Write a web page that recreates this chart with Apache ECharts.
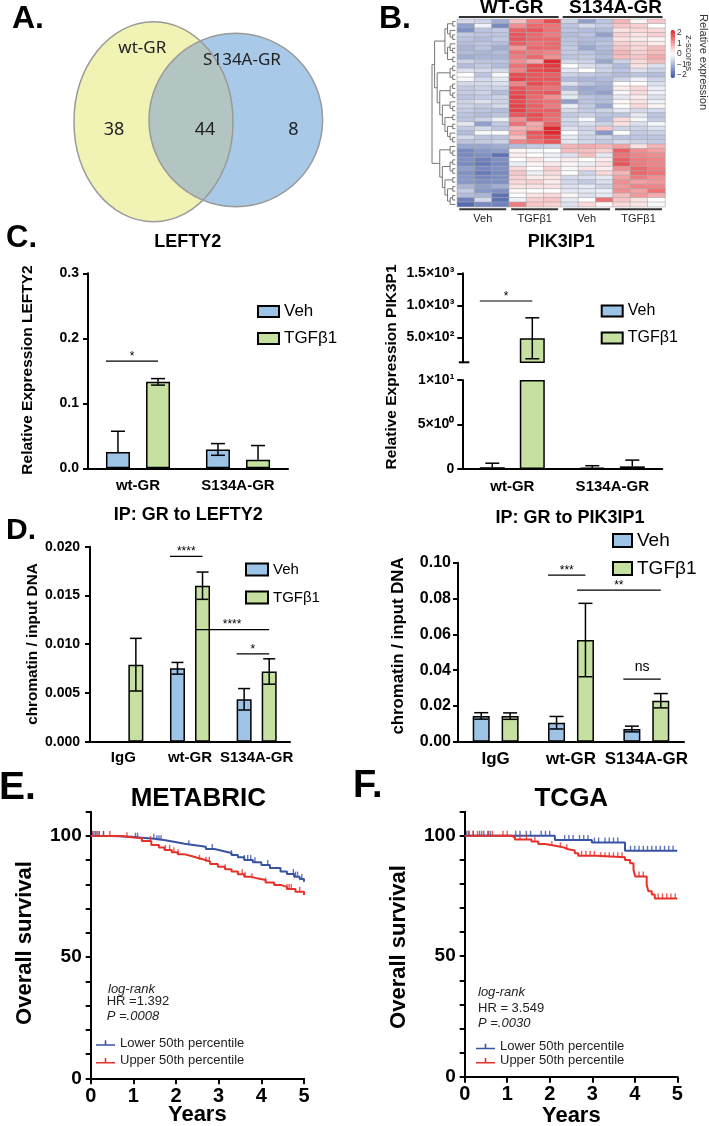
<!DOCTYPE html>
<html><head><meta charset="utf-8">
<script src="https://cdn.jsdelivr.net/npm/echarts@6/dist/echarts.min.js"></script>
<style>html,body{margin:0;padding:0;background:#fff}#c{width:709px;height:1126px}</style>
</head><body><div id="c"></div>
<script>
// ================= DATA =================
// A. Venn
const vennSets = ['wt-GR', 'S134A-GR'];
const vennCounts = [38, 44, 8]; // wt-GR only, shared, S134A-GR only

// B. Heatmap (z-scores), columns: WT-GR Veh x3, WT-GR TGFb1 x3, S134A-GR Veh x3, S134A-GR TGFb1 x3
const hmGroups = ['WT-GR', 'S134A-GR'];
const hmTreatments = ['Veh', 'TGFβ1', 'Veh', 'TGFβ1'];
const hmColumns = ['WT Veh 1','WT Veh 2','WT Veh 3','WT TGF 1','WT TGF 2','WT TGF 3','S134A Veh 1','S134A Veh 2','S134A Veh 3','S134A TGF 1','S134A TGF 2','S134A TGF 3'];
const hmRows = [
 [-0.5,-0.6,-1.1, 0.7,1.4,1.9, -0.6,-1.3,-0.8, 0.8,0.1,0.6],
 [-1.3,-0.2,-1.6, 1.2,1.6,1.5, -0.8,-0.5,-0.7, 0.6,0.5,0.0],
 [-1.5,-0.8,-0.7, 1.7,1.8,1.5, -0.8,-0.9,-0.9, 0.3,0.4,0.4],
 [-0.7,-0.8,-0.8, 1.8,1.6,1.4, -0.9,-0.8,-1.3, 0.5,0.3,0.5],
 [-0.8,-0.9,-0.7, 1.8,1.6,1.6, -0.8,-0.9,-0.9, 0.3,0.2,0.1],
 [-0.9,-0.8,-0.9, 1.7,1.5,1.6, -0.8,-1.0,-0.8, 0.5,0.4,0.2],
 [-1.0,-0.8,-1.1, 1.1,1.6,1.6, -0.7,-1.2,-0.9, 0.6,0.4,0.7],
 [-0.9,-1.0,-0.9, 1.5,1.4,1.3, -0.7,-0.8,-1.0, 0.8,0.5,0.7],
 [-1.1,-1.0,-1.0, 1.4,1.6,1.2, -0.8,-0.7,-0.9, 0.7,0.6,0.9],
 [-0.6,-0.8,-0.8, 1.2,0.9,2.4, -0.5,-0.6,-1.2, -0.6,0.4,0.7],
 [-0.9,-0.7,-0.9, 1.5,1.9,2.1, 0.0,-0.4,-0.6, -0.9,0.3,-0.4],
 [-0.4,-0.5,-0.5, 1.3,1.9,2.0, -0.3,0.0,-0.6, -0.8,-0.4,-0.6],
 [0.0,-0.8,-0.1, 1.9,1.8,1.7, -0.6,-0.7,-0.8, -0.9,-0.8,-0.9],
 [-0.1,-0.5,-0.3, 2.0,1.8,1.8, -0.9,-1.0,-0.9, -0.6,-0.2,-0.6],
 [-0.5,-0.5,-0.4, 1.3,1.9,1.7, -0.4,-0.8,-1.0, 0.0,0.0,-0.4],
 [-0.7,-0.6,-0.6, 1.8,1.6,1.5, -1.0,-1.2,-1.1, 0.2,0.4,-0.2],
 [-0.7,-0.6,-0.9, 1.9,1.7,1.8, -0.4,-1.1,-1.3, -0.1,0.4,-0.2],
 [-0.8,-0.7,-0.6, 2.0,1.6,1.2, -0.3,-0.8,-0.9, -0.3,0.2,-0.4],
 [-0.6,-0.4,-0.6, 1.9,1.6,1.5, -1.3,-0.8,-0.9, 0.1,0.3,-0.2],
 [-0.6,-0.7,-0.5, 2.0,1.7,1.4, -0.2,-0.7,-1.2, 0.0,0.4,0.1],
 [-0.7,-0.8,-0.9, 2.0,1.7,1.7, -0.5,-0.7,-0.6, -0.3,-0.5,-0.5],
 [-0.8,-0.9,-0.8, 1.8,1.9,1.6, -0.7,-0.6,-0.8, -0.8,-0.3,-0.8],
 [-0.8,-0.6,-0.2, 1.2,1.8,1.5, -0.5,-0.1,-0.9, 0.4,-0.1,-0.7],
 [-0.3,-1.3,-0.7, 1.5,0.9,1.7, -0.6,-0.4,-0.6, 0.3,-0.4,-0.1],
 [-0.7,-0.5,-0.8, 0.8,1.0,2.5, -0.4,-0.6,0.6, -0.6,-0.6,-0.4],
 [-0.9,-0.1,0.0, 1.0,1.8,2.3, 0.0,-0.5,-1.4, 0.0,-0.7,-0.6],
 [-0.5,-0.8,-0.8, 0.7,1.7,2.0, -0.3,-0.6,-0.6, -0.8,-0.8,-0.8],
 [-0.8,-0.7,-0.6, 1.3,1.5,1.8, -0.3,-0.5,-0.7, -0.5,-0.6,-0.7],
 [-1.2,-1.2,-1.1, -0.9,-0.7,-0.6, 0.8,0.9,0.8, 1.0,0.3,0.8],
 [-1.6,-1.4,-1.3, 0.1,-0.1,0.0, 0.7,0.7,0.5, 1.7,1.2,1.0],
 [-1.6,-1.5,-1.9, 0.2,0.0,-0.2, -0.4,0.7,-0.3, 1.5,1.3,1.2],
 [-1.5,-1.7,-1.5, 0.0,0.3,-0.1, 0.2,0.0,0.2, 1.7,1.4,1.3],
 [-1.6,-1.8,-1.6, -0.2,0.1,0.2, 0.1,-0.2,0.3, 1.8,1.4,1.3],
 [-1.3,-1.6,-1.5, 0.4,0.0,0.5, -0.1,0.3,0.2, 1.2,1.6,1.4],
 [-1.5,-1.8,-1.6, 0.6,-0.2,0.4, 0.0,-0.6,0.4, 0.8,1.6,1.5],
 [-1.4,-1.6,-1.5, 0.5,0.2,0.3, -0.5,-0.4,-0.3, 1.0,1.4,1.2],
 [-1.4,-1.5,-1.5, 0.4,0.5,0.2, -0.5,-0.7,-0.4, 1.2,1.0,1.1],
 [-1.0,-1.3,-1.1, 0.3,0.3,0.3, -0.4,-0.3,-0.6, 1.1,1.3,1.3],
 [-0.7,-1.4,-1.5, 0.1,0.0,0.0, -0.3,-0.3,-0.2, 1.2,1.0,1.5],
 [-0.9,-1.0,-1.9, 0.0,0.3,0.4, 0.1,-0.4,-0.3, 0.7,1.1,0.9],
 [-1.7,-0.5,-1.9, -0.2,0.5,0.6, -0.3,0.0,1.5, 0.6,0.3,0.0],
 [-2.0,-1.6,-1.7, 1.4,0.6,0.5, -0.4,0.4,0.1, 0.4,0.3,-0.1]
];
// row clustering (leaf = row index)
const hmTree = [
 [[[[0,1],[2,[3,4]]],[[5,[6,7]],[8,9]]],
  [[[10,11],[12,13]],[[[14,15],[16,17]],[[18,[19,20]],[[21,22],[[23,24],[25,[26,27]]]]]]]],
 [[28,[29,30]],[[[31,32],[33,34]],[[35,36],[[37,38],[[39,40],41]]]]]
];
const zTicks = [2, 1, 0, -1, -2];

// C. qPCR
const treatments = ['Veh', 'TGFβ1'];
const grGroups = ['wt-GR', 'S134A-GR'];
const lefty2VehMean = [0.025, 0.029];
const lefty2VehSD   = [0.032, 0.009];
const lefty2TgfMean = [0.133, 0.013];
const lefty2TgfSD   = [0.005, 0.022];
const pik3VehMean = [0.2, 0.15];
const pik3VehSD   = [0.45, 0.22];
const pik3TgfMean = [485, 0.3];
const pik3TgfSD   = [320, 0.7];
const pik3UpperTicks = [500, 1000, 1500];
const pik3UpperLabels = ['5.0×10²', '1.0×10³', '1.5×10³'];
const pik3LowerTicks = [0, 5, 10];
const pik3LowerLabels = ['0', '5×10⁰', '1×10¹'];

// D. ChIP
const chipGroups = ['IgG', 'wt-GR', 'S134A-GR'];
const chipLeftyVehMean = [0, 0.00753, 0.00435];
const chipLeftyVehSD   = [0, 0.0006, 0.0011];
const chipLeftyTgfMean = [0.0079, 0.0160, 0.0072];
const chipLeftyTgfSD   = [0.0027, 0.0014, 0.0013];
const chipPikVehMean = [0.0144, 0.0106, 0.0071];
const chipPikVehSD   = [0.0018, 0.0035, 0.0016];
const chipPikTgfMean = [0.0143, 0.0568, 0.0229];
const chipPikTgfSD   = [0.0018, 0.0205, 0.0040];

// significance: [label, groupA, treatmentA, groupB, treatmentB, y]
const lefty2Sig = [['*', 0, 0, 0, 1, 0.165]];
const pik3Sig = [['*', 0, 0, 0, 1, 1067]];
const chipLeftySig = [['****', 1, 0, 1, 1, 0.0190], ['****', 1, 1, 2, 1, 0.0115], ['*', 2, 0, 2, 1, 0.0090]];
const chipPikSig = [['***', 1, 0, 1, 1, 0.0931], ['**', 1, 1, 2, 1, 0.0847], ['ns', 2, 0, 2, 1, 0.035]];

// E/F. Kaplan-Meier
const kmGroups = ['Lower 50th percentile', 'Upper 50th percentile'];
const metaLowerT = [0, 0.5, 0.95, 1.2, 1.5, 1.75, 1.98, 2.2, 2.45, 2.7, 2.9, 3.1, 3.3, 3.45, 3.6, 3.8, 4.0, 4.2, 4.45, 4.6, 4.77, 4.9, 5.0];
const metaLowerS = [100, 99.7, 99.3, 98.8, 98.2, 97.5, 96.8, 96.2, 95.5, 94.6, 93.8, 93.0, 92.1, 91.2, 90.1, 89.1, 88.0, 86.8, 85.3, 84.3, 83.2, 82.2, 81.1];
const metaUpperT = [0, 0.72, 0.95, 1.2, 1.42, 1.6, 1.73, 1.9, 2.04, 2.2, 2.36, 2.5, 2.67, 2.8, 2.98, 3.15, 3.3, 3.45, 3.6, 3.75, 3.9, 4.1, 4.3, 4.45, 4.6, 4.8, 5.0];
const metaUpperS = [100, 99.5, 99.0, 97.9, 96.3, 95.2, 94.2, 93.3, 92.4, 91.7, 91.0, 90.2, 89.4, 88.4, 87.3, 86.3, 85.3, 84.2, 83.2, 82.5, 81.8, 80.8, 79.8, 79.0, 78.1, 77.0, 75.6];
const metaLowerCens = [0.05, 0.1, 0.15, 0.2, 0.3, 1.05, 1.1, 1.48, 1.55, 1.6, 1.65, 2.3, 2.85, 3.3, 3.6, 3.68, 3.75, 3.85, 4.15, 4.75, 4.8, 4.85, 4.95];
const metaUpperCens = [0.05, 0.12, 0.2, 0.3, 0.45, 0.85, 1.4, 1.75, 1.85, 1.95, 2.05, 2.55, 2.7, 2.78, 3.15, 3.55, 3.62, 3.78, 4.1, 4.6, 4.65, 4.7, 4.9];
const tcgaLowerT = [0, 2.12, 2.99, 3.77, 5.0];
const tcgaLowerS = [100, 98.3, 97.2, 93.8, 93.8];
const tcgaUpperT = [0, 1.10, 1.18, 1.57, 1.73, 1.89, 2.16, 2.32, 2.44, 2.59, 2.67, 3.10, 3.77, 3.89, 3.97, 4.01, 4.28, 4.32, 4.40, 4.47, 5.0];
const tcgaUpperS = [100, 99.4, 98.5, 97.6, 96.6, 95.8, 95.2, 94.4, 93.9, 92.8, 91.7, 91.1, 90.0, 88.6, 85.9, 83.1, 79.7, 77.0, 75.6, 74.0, 74.0];
const tcgaLowerCens = [0.05,0.1,0.2,0.35,0.45,0.55,0.6,1.2,1.3,1.45,1.55,1.8,1.9,2.0,2.35,2.45,2.55,2.7,2.8,2.9,3.05,3.15,3.3,3.4,3.5,3.6,3.9,4.0,4.1,4.2,4.3,4.4,4.5,4.6,4.7,4.8,4.9];
const tcgaUpperCens = [0.1,0.2,0.3,0.4,0.55,0.65,0.9,1.0,1.3,1.45,1.65,2.05,2.25,2.4,2.75,2.85,2.95,3.05,3.2,3.3,3.4,3.5,3.6,3.7,4.1,4.2,4.55,4.65,4.75,4.85,4.95];
const metaStats = ['log-rank', 'HR =1.392', 'P =.0008'];
const tcgaStats = ['log-rank', 'HR = 3.549', 'P =.0030'];

// ================= STYLE / HELPERS =================
const F = '"Liberation Sans", Arial, sans-serif';
const FV = '"Noto Sans", "Open Sans", sans-serif';
const VEH = '#9dc3e6', TGF = '#c5e0a0';
const KMB = '#3953a4', KMR = '#e8302a';

const chart = echarts.init(document.getElementById('c'), null, {renderer: 'canvas', width: 709, height: 1126});

function catX(grid, cats, fs, margin, show) {
  return {type: 'category', gridIndex: grid, data: cats, show: show !== false,
    axisLine: {lineStyle: {color: '#000', width: 2}},
    axisTick: {alignWithLabel: true, length: 5, lineStyle: {color: '#000', width: 2}},
    axisLabel: {interval: 0, fontFamily: F, fontWeight: 'bold', fontSize: fs, color: '#000', margin: margin}};
}
function valY(grid, min, max, interval, fs, fmt, margin, extra) {
  return Object.assign({type: 'value', gridIndex: grid, min: min, max: max, interval: interval,
    axisLine: {show: true, lineStyle: {color: '#000', width: 2}},
    axisTick: {show: true, length: 5, lineStyle: {color: '#000', width: 2}},
    splitLine: {show: false},
    axisLabel: {fontFamily: F, fontWeight: 'bold', fontSize: fs, color: '#000', margin: margin, formatter: fmt}}, extra || {});
}
function bar(ax, name, color, data, bw, gap) {
  return {type: 'bar', name: name, xAxisIndex: ax, yAxisIndex: ax, data: data, barWidth: bw, barGap: gap,
    itemStyle: {color: color, borderColor: '#000', borderWidth: 1.5}, silent: true, animation: false};
}
function errSeries(ax, means, sds, off, cap, yMin, yMax) {
  const data = [];
  means.forEach((m, s) => m.forEach((v, i) => data.push([i, s, v, sds[s][i]])));
  return {type: 'custom', xAxisIndex: ax, yAxisIndex: ax, data: data, silent: true, z: 5,
    renderItem: function (p, api) {
      const i = api.value(0), s = api.value(1), m = api.value(2), sd = api.value(3);
      if (!sd) return null;
      let lo = m - sd, hi = m + sd;
      const loCap = lo >= yMin, hiCap = hi <= yMax;
      if (!loCap) lo = m;
      lo = Math.max(lo, yMin); hi = Math.min(hi, yMax);
      if (lo >= hi) return null;
      const cx = api.coord([i, 0])[0] + (s === 0 ? -off : off);
      const yl = api.coord([i, lo])[1], yh = api.coord([i, hi])[1];
      const st = {stroke: '#000', lineWidth: 1.5};
      const ch = [{type: 'line', shape: {x1: cx, y1: yl, x2: cx, y2: yh}, style: st}];
      if (hiCap) ch.push({type: 'line', shape: {x1: cx - cap, y1: yh, x2: cx + cap, y2: yh}, style: st});
      if (loCap) ch.push({type: 'line', shape: {x1: cx - cap, y1: yl, x2: cx + cap, y2: yl}, style: st});
      return {type: 'group', children: ch};
    }};
}
function stepAt(T, S, t) { let v = S[0]; for (let k = 0; k < T.length; k++) { if (T[k] <= t) v = S[k]; } return v; }
function kmLine(ax, name, color, T, S) {
  return {type: 'line', name: name, xAxisIndex: ax, yAxisIndex: ax, step: 'end', showSymbol: false, symbol: 'none',
    data: T.map((t, k) => [t, S[k]]), color: color, lineStyle: {color: color, width: 2}, itemStyle: {color: color}, silent: true, animation: false};
}
function kmCens(ax, color, T, S, C) {
  return {type: 'scatter', xAxisIndex: ax, yAxisIndex: ax, symbol: 'rect', symbolSize: [1.4, 5], symbolOffset: [0, -2.5],
    data: C.map(t => [t, stepAt(T, S, t)]), itemStyle: {color: color}, silent: true, z: 4};
}
function kmX(grid) {
  return {type: 'value', gridIndex: grid, min: 0, max: 5, interval: 1,
    axisLine: {lineStyle: {color: '#000', width: 2}}, axisTick: {length: 6, lineStyle: {color: '#000', width: 2}},
    splitLine: {show: false}, axisLabel: {fontFamily: F, fontWeight: 'bold', fontSize: 20, color: '#000', margin: 8}};
}
function kmY(grid) {
  return {type: 'value', gridIndex: grid, min: 0, max: 110, interval: 10,
    axisLine: {show: true, lineStyle: {color: '#000', width: 2}}, axisTick: {show: true, length: 5, lineStyle: {color: '#000', width: 2}},
    splitLine: {show: false}, axisLabel: {fontFamily: F, fontWeight: 'bold', fontSize: 19, color: '#000', margin: 9,
      formatter: v => (v % 50 === 0 ? String(v) : '')}};
}
const kmIcon = 'path://M0,6h24v2h-24z M11,1h2v6h-2z';

// heatmap data
const hmData = [];
hmRows.forEach((row, r) => row.forEach((v, c) => hmData.push([c, r, v])));
const hmRowNames = hmRows.map((_, r) => 'gene ' + (r + 1));

// bar layout
const cBW = 24, cGap = 0.67, cOff = cBW * (1 + cGap) / 2;
const c2BW = 25, c2Gap = 0.6, c2Off = c2BW * (1 + c2Gap) / 2;
const dBW = 15, dGap = 0.67, dOff = dBW * (1 + dGap) / 2;
const d2BW = 17, d2Gap = 0.7, d2Off = d2BW * (1 + d2Gap) / 2;
const upMin = 110, upMax = 1500, loMin = 0, loMax = 10;
const zMin = -2.3, zMax = 2.3, cbTop = 30, cbH = 48;

const option = {
  animation: false,
  backgroundColor: '#fff',
  grid: [
    {left: 457.3, top: 19.3, width: 207.7, height: 187.4},
    {left: 88, top: 273.3, width: 200, height: 195},
    {left: 462.3, top: 273.3, width: 200, height: 89},
    {left: 462.3, top: 380, width: 200, height: 89},
    {left: 90, top: 546.7, width: 200, height: 195},
    {left: 458, top: 562.7, width: 226, height: 179},
    {left: 90.7, top: 811.7, width: 213.3, height: 266.6},
    {left: 464.7, top: 811.7, width: 212.6, height: 265}
  ],
  xAxis: [
    {type: 'category', gridIndex: 0, data: hmColumns, show: false},
    catX(1, grGroups, 15, 10),
    catX(2, grGroups, 15, 10, false),
    catX(3, grGroups, 15, 10),
    catX(4, chipGroups, 15, 9),
    catX(5, chipGroups, 17, 9),
    kmX(6), kmX(7)
  ],
  yAxis: [
    {type: 'category', gridIndex: 0, data: hmRowNames, inverse: true, show: false},
    valY(1, 0, 0.3, 0.1, 14, v => v.toFixed(1), 9),
    valY(2, upMin, upMax, null, 14, v => pik3UpperLabels[pik3UpperTicks.indexOf(v)] || '', 8,
      {axisTick: {show: true, length: 5, customValues: pik3UpperTicks, lineStyle: {color: '#000', width: 2}},
       axisLabel: {fontFamily: F, fontWeight: 'bold', fontSize: 14, color: '#000', margin: 8, customValues: pik3UpperTicks,
         formatter: v => pik3UpperLabels[pik3UpperTicks.indexOf(v)] || ''}}),
    valY(3, loMin, loMax, 5, 14, v => pik3LowerLabels[pik3LowerTicks.indexOf(v)] || '', 8),
    valY(4, 0, 0.02, 0.005, 14, v => v.toFixed(3), 10),
    valY(5, 0, 0.1, 0.02, 16, v => v.toFixed(2), 7),
    kmY(6), kmY(7)
  ],
  visualMap: [{type: 'continuous', seriesIndex: 0, min: zMin, max: zMax, calculable: false, show: true,
    inRange: {color: ['#3b55a5', '#ffffff', '#e3262c']}, left: 670.5, top: cbTop, itemWidth: 4.5, itemHeight: cbH,
    padding: 0, text: ['', ''], textGap: 0, textStyle: {fontSize: 1, color: 'rgba(0,0,0,0)'}}],
  legend: [
    {data: treatments, left: 257, top: 303, orient: 'vertical', itemWidth: 21, itemHeight: 11, itemGap: 10, padding: 0, icon: 'rect', selectedMode: false,
      textStyle: {fontFamily: F, fontSize: 17, color: '#000'}},
    {data: treatments, left: 600.7, top: 303, orient: 'vertical', itemWidth: 21, itemHeight: 11, itemGap: 11, padding: 0, icon: 'rect', selectedMode: false,
      textStyle: {fontFamily: F, fontSize: 16, color: '#000'}},
    {data: treatments, left: 245, top: 562, orient: 'vertical', itemWidth: 22, itemHeight: 12, itemGap: 13, padding: 0, icon: 'rect', selectedMode: false,
      textStyle: {fontFamily: F, fontSize: 15, color: '#000'}},
    {data: treatments, left: 612, top: 531, orient: 'vertical', itemWidth: 19, itemHeight: 13, itemGap: 9, padding: 0, icon: 'rect', selectedMode: false,
      textStyle: {fontFamily: F, fontSize: 19, color: '#000'}},
    {data: kmGroups, left: 96, top: 1036.5, orient: 'vertical', itemWidth: 19, itemHeight: 6, itemGap: 4.7, padding: 0, icon: kmIcon, selectedMode: false,
      textStyle: {fontFamily: F, fontSize: 13, color: '#222'}},
    {data: kmGroups, left: 476, top: 1040, orient: 'vertical', itemWidth: 19, itemHeight: 6, itemGap: 1.3, padding: 0, icon: kmIcon, selectedMode: false,
      textStyle: {fontFamily: F, fontSize: 13, color: '#222'}}
  ],
  series: [
    {type: 'heatmap', xAxisIndex: 0, yAxisIndex: 0, data: hmData, silent: true,
      itemStyle: {borderColor: '#a9a9a9', borderWidth: 0.6}},
    // C left
    bar(1, 'Veh', VEH, lefty2VehMean, cBW, (cGap * 100) + '%'),
    bar(1, 'TGFβ1', TGF, lefty2TgfMean, cBW, (cGap * 100) + '%'),
    errSeries(1, [lefty2VehMean, lefty2TgfMean], [lefty2VehSD, lefty2TgfSD], cOff, 7, 0, 0.3),
    // C right upper segment
    bar(2, 'Veh', VEH, pik3VehMean.map(v => (v > upMin ? v : null)), c2BW, (c2Gap * 100) + '%'),
    bar(2, 'TGFβ1', TGF, pik3TgfMean.map(v => (v > upMin ? v : null)), c2BW, (c2Gap * 100) + '%'),
    errSeries(2, [pik3VehMean, pik3TgfMean], [pik3VehSD, pik3TgfSD], c2Off, 7, upMin, upMax),
    // C right lower segment
    bar(3, 'Veh', VEH, pik3VehMean.map(v => Math.min(v, loMax)), c2BW, (c2Gap * 100) + '%'),
    bar(3, 'TGFβ1', TGF, pik3TgfMean.map(v => Math.min(v, loMax)), c2BW, (c2Gap * 100) + '%'),
    errSeries(3, [pik3VehMean, pik3TgfMean], [pik3VehSD, pik3TgfSD], c2Off, 7, loMin, loMax),
    // D left
    bar(4, 'Veh', VEH, chipLeftyVehMean, dBW, (dGap * 100) + '%'),
    bar(4, 'TGFβ1', TGF, chipLeftyTgfMean, dBW, (dGap * 100) + '%'),
    errSeries(4, [chipLeftyVehMean, chipLeftyTgfMean], [chipLeftyVehSD, chipLeftyTgfSD], dOff, 6, 0, 0.02),
    // D right
    bar(5, 'Veh', VEH, chipPikVehMean, d2BW, (d2Gap * 100) + '%'),
    bar(5, 'TGFβ1', TGF, chipPikTgfMean, d2BW, (d2Gap * 100) + '%'),
    errSeries(5, [chipPikVehMean, chipPikTgfMean], [chipPikVehSD, chipPikTgfSD], d2Off, 7, 0, 0.1),
    // E
    kmLine(6, kmGroups[0], KMB, metaLowerT, metaLowerS),
    kmLine(6, kmGroups[1], KMR, metaUpperT, metaUpperS),
    kmCens(6, KMB, metaLowerT, metaLowerS, metaLowerCens),
    kmCens(6, KMR, metaUpperT, metaUpperS, metaUpperCens),
    // F
    kmLine(7, kmGroups[0], KMB, tcgaLowerT, tcgaLowerS),
    kmLine(7, kmGroups[1], KMR, tcgaUpperT, tcgaUpperS),
    kmCens(7, KMB, tcgaLowerT, tcgaLowerS, tcgaLowerCens),
    kmCens(7, KMR, tcgaUpperT, tcgaUpperS, tcgaUpperCens)
  ]
};
chart.setOption(option);

// ================= ANNOTATIONS (positions from the library's scales) =================
function txt(x, y, text, size, o) {
  o = o || {};
  const font = (o.italic ? 'italic ' : '') + (o.weight || 'normal') + ' ' + size + 'px ' + (o.family || F);
  return {type: 'text', x: x, y: y, rotation: o.rot || 0, silent: true, z: 10,
    style: {text: text, fill: o.color || '#000', font: font, align: o.align || 'center', verticalAlign: o.valign || 'middle',
      textAlign: o.align || 'center', textVerticalAlign: o.valign || 'middle'}};
}
function ln(x1, y1, x2, y2, w, c) {
  return {type: 'line', silent: true, z: 10, shape: {x1: x1, y1: y1, x2: x2, y2: y2}, style: {stroke: c || '#000', lineWidth: w || 1}};
}
const G = [];

// --- A. Venn ---
const e1 = {cx: 153.5, cy: 121.7, rx: 79.5, ry: 100};
const e2 = {cx: 235.8, cy: 120, rx: 86.8, ry: 86.7};
function inside(e, x, y) { return ((x - e.cx) / e.rx) ** 2 + ((y - e.cy) / e.ry) ** 2 <= 1; }
const lens = [];
for (let k = 0; k < 720; k++) {
  const a = k / 720 * Math.PI * 2;
  const p1 = [e1.cx + e1.rx * Math.cos(a), e1.cy + e1.ry * Math.sin(a)];
  if (inside(e2, p1[0], p1[1])) lens.push(p1);
  const p2 = [e2.cx + e2.rx * Math.cos(a), e2.cy + e2.ry * Math.sin(a)];
  if (inside(e1, p2[0], p2[1])) lens.push(p2);
}
const lc = lens.reduce((s, p) => [s[0] + p[0] / lens.length, s[1] + p[1] / lens.length], [0, 0]);
lens.sort((p, q) => Math.atan2(p[1] - lc[1], p[0] - lc[0]) - Math.atan2(q[1] - lc[1], q[0] - lc[0]));
G.push({type: 'ellipse', silent: true, shape: e1, style: {fill: '#f1f3b4'}});
G.push({type: 'ellipse', silent: true, shape: e2, style: {fill: '#a8c9e7'}});
G.push({type: 'polygon', silent: true, shape: {points: lens}, style: {fill: '#b3c5c3'}});
G.push({type: 'ellipse', silent: true, shape: e1, style: {fill: null, stroke: '#9a9a9a', lineWidth: 1.5}});
G.push({type: 'ellipse', silent: true, shape: e2, style: {fill: null, stroke: '#9a9a9a', lineWidth: 1.5}});
G.push(txt(142.3, 48.3, vennSets[0], 17, {family: FV, color: '#222'}));
G.push(txt(242, 60, vennSets[1], 17, {family: FV, color: '#222'}));
G.push(txt(114, 130, String(vennCounts[0]), 18, {family: FV, color: '#222'}));
G.push(txt(205, 130, String(vennCounts[1]), 18, {family: FV, color: '#222'}));
G.push(txt(293.3, 130, String(vennCounts[2]), 18, {family: FV, color: '#222'}));

// panel letters
G.push(txt(12, 19, 'A.', 32, {weight: 'bold', align: 'left'}));
G.push(txt(379, 19, 'B.', 32, {weight: 'bold', align: 'left'}));
G.push(txt(6, 238, 'C.', 31, {weight: 'bold', align: 'left'}));
G.push(txt(6, 531, 'D.', 30, {weight: 'bold', align: 'left'}));
G.push(txt(-1, 788, 'E.', 39, {weight: 'bold', align: 'left'}));
G.push(txt(353, 787, 'F.', 38, {weight: 'bold', align: 'left'}));

// --- B. heatmap annotations ---
const cell = (c, r) => chart.convertToPixel({seriesIndex: 0}, [c, r]);
const c0 = cell(0, 0), c1 = cell(1, 1);
const cw = c1[0] - c0[0], rh = c1[1] - c0[1];
const hmL = c0[0] - cw / 2, hmT = c0[1] - rh / 2;
const colL = c => hmL + c * cw;
const nC = hmColumns.length, nR = hmRows.length;
const hmB = hmT + nR * rh;
// group headers
hmGroups.forEach((g, k) => {
  const a = colL(k * nC / 2) + 1.5, b = colL((k + 1) * nC / 2) - 2.5;
  G.push(ln(a, 16.9, b, 16.9, 2, '#333'));
  G.push(txt((a + b) / 2 + 3, 8, g, 19, {weight: 'bold'}));
});
hmTreatments.forEach((t, k) => {
  const a = colL(k * 3) + 2, b = colL((k + 1) * 3) - 3;
  G.push(ln(a, hmB + 2.5, b, hmB + 2.5, 2, '#333'));
  G.push(txt((a + b) / 2, hmB + 12, t, 11, {color: '#222'}));
});
// dendrogram
const leafX = hmL - 2;
function lay(n) {
  if (typeof n === 'number') return {y: cell(0, n)[1], h: 0};
  const kids = n.map(lay);
  return {y: (kids[0].y + kids[kids.length - 1].y) / 2, h: 1 + Math.max.apply(null, kids.map(k => k.h)), kids: kids};
}
const root = lay(hmTree);
const step = (leafX - 432) / root.h;
const xOf = h => leafX - h * step;
(function draw(n) {
  if (!n.kids) return;
  const x = xOf(n.h);
  G.push(ln(x, n.kids[0].y, x, n.kids[n.kids.length - 1].y, 1, '#777'));
  n.kids.forEach(k => { G.push(ln(x, k.y, xOf(k.h), k.y, 1, '#777')); draw(k); });
})(root);
// colour bar ticks & titles
zTicks.forEach(v => {
  const y = cbTop + (zMax - v) / (zMax - zMin) * cbH;
  G.push(txt(677, y, v < 0 ? '−' + Math.abs(v) : String(v), 8.5, {align: 'left', color: '#333'}));
});
G.push(txt(689, 53, 'z-scores', 9.5, {rot: -Math.PI / 2, color: '#333'}));
G.push(txt(703, 62, 'Relative expression', 11, {rot: -Math.PI / 2, color: '#333'}));

// --- titles ---
G.push(txt(187.7, 242, 'LEFTY2', 18, {weight: 'bold'}));
G.push(txt(561.3, 242, 'PIK3IP1', 18, {weight: 'bold'}));
G.push(txt(188.3, 515, 'IP: GR to LEFTY2', 18, {weight: 'bold'}));
G.push(txt(570, 518.3, 'IP: GR to PIK3IP1', 18, {weight: 'bold'}));
G.push(txt(198.3, 799.3, 'METABRIC', 26, {weight: 'bold'}));
G.push(txt(571.3, 799.3, 'TCGA', 26, {weight: 'bold'}));
// axis titles
G.push(txt(28, 370, 'Relative Expression LEFTY2', 15.5, {weight: 'bold', rot: Math.PI / 2}));
G.push(txt(392, 367, 'Relative Expression PIK3P1', 15.5, {weight: 'bold', rot: Math.PI / 2}));
G.push(txt(33, 644, 'chromatin / input DNA', 15.3, {weight: 'bold', rot: Math.PI / 2}));
G.push(txt(398, 646, 'chromatin / input DNA', 16.8, {weight: 'bold', rot: Math.PI / 2}));
G.push(txt(25, 943, 'Overall survival', 22, {weight: 'bold', rot: Math.PI / 2}));
G.push(txt(399, 947, 'Overall survival', 22, {weight: 'bold', rot: Math.PI / 2}));
G.push(txt(197.3, 1115, 'Years', 22, {weight: 'bold'}));
G.push(txt(571.3, 1116, 'Years', 22, {weight: 'bold'}));

// axis break mark (C right)
const brkY = chart.convertToPixel({yAxisIndex: 2}, upMin);
const brkX = chart.convertToPixel({gridIndex: 2}, [0, upMin])[0];
G.push(ln(462.3 - 3.5, brkY, 462.3 + 7, brkY, 2));

// significance
function sig(list, ax, off, bw) {
  list.forEach(s => {
    const xa = chart.convertToPixel({xAxisIndex: ax}, s[1]) + (s[2] === 0 ? -off : off) - bw / 2;
    const xb = chart.convertToPixel({xAxisIndex: ax}, s[3]) + (s[4] === 0 ? -off : off);
    const y = chart.convertToPixel({yAxisIndex: ax}, s[5]);
    G.push(ln(xa, y, xb, y, 1.2));
    if (s[0] === 'ns') G.push(txt((xa + xb) / 2, y - 12, s[0], 14));
    else G.push(txt((xa + xb) / 2, y - 4.5, s[0], 12));
  });
}
sig(lefty2Sig, 1, cOff, cBW);
sig(pik3Sig, 2, c2Off, c2BW);
sig(chipLeftySig, 4, dOff, dBW);
sig(chipPikSig, 5, d2Off, d2BW);

// KM stats
G.push(txt(108, 989.3, metaStats[0], 13, {italic: true, align: 'left', color: '#222'}));
G.push(txt(106.7, 1001.7, metaStats[1], 13, {align: 'left', color: '#222'}));
G.push(txt(106.7, 1016.7, metaStats[2], 13, {italic: true, align: 'left', color: '#222'}));
G.push(txt(478, 992.3, tcgaStats[0], 13, {italic: true, align: 'left', color: '#222'}));
G.push(txt(478, 1008.3, tcgaStats[1], 13, {align: 'left', color: '#222'}));
G.push(txt(478, 1023.3, tcgaStats[2], 13, {italic: true, align: 'left', color: '#222'}));

chart.setOption({graphic: {elements: G}});
</script>
</body></html>
